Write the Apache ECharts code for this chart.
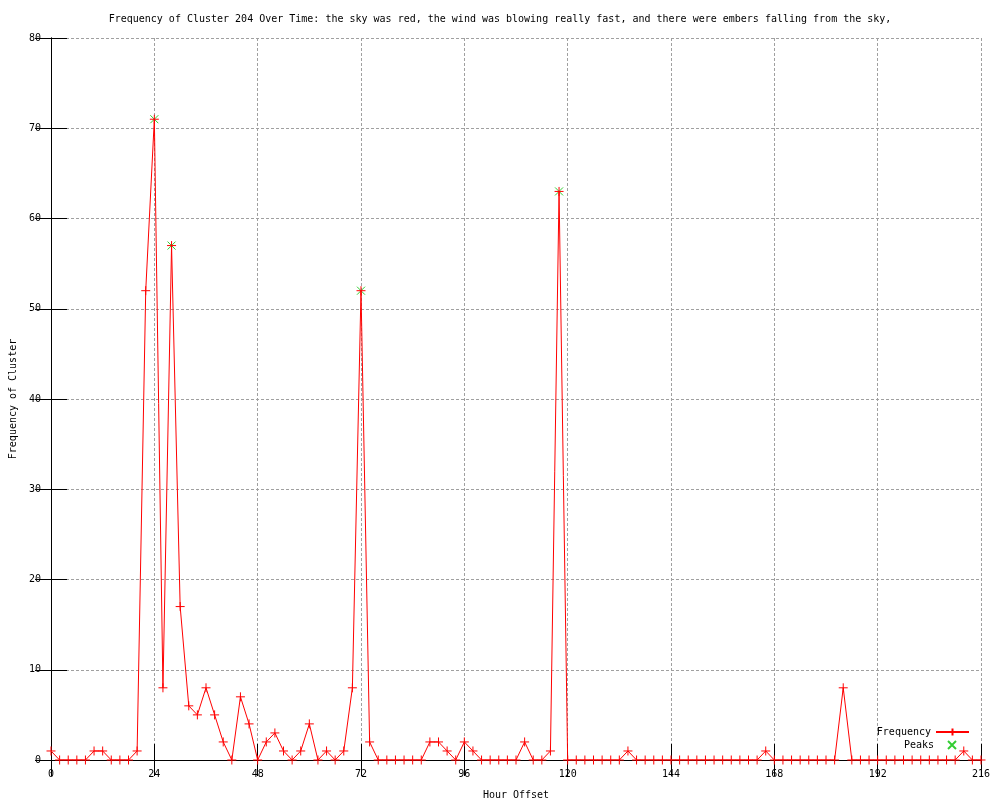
<!DOCTYPE html>
<html>
<head>
<meta charset="utf-8">
<script src="https://cdn.jsdelivr.net/npm/echarts@6/dist/echarts.min.js"></script>
<style>html,body{margin:0;padding:0;background:#fff}#c{width:1000px;height:800px}</style>
</head>
<body>
<div id="c"></div>
<script>
// Hour offsets (every 2 hours, 0..216)
var hours = [0,2,4,6,8,10,12,14,16,18,20,22,24,26,28,30,32,34,36,38,40,42,44,46,48,50,52,54,56,58,60,62,64,66,68,70,72,74,76,78,80,82,84,86,88,90,92,94,96,98,100,102,104,106,108,110,112,114,116,118,120,122,124,126,128,130,132,134,136,138,140,142,144,146,148,150,152,154,156,158,160,162,164,166,168,170,172,174,176,178,180,182,184,186,188,190,192,194,196,198,200,202,204,206,208,210,212,214,216];
var frequency = [1,0,0,0,0,1,1,0,0,0,1,52,71,8,57,17,6,5,8,5,2,0,7,4,0,2,3,1,0,1,4,0,1,0,1,8,52,2,0,0,0,0,0,0,2,2,1,0,2,1,0,0,0,0,0,2,0,0,1,63,0,0,0,0,0,0,0,1,0,0,0,0,0,0,0,0,0,0,0,0,0,0,0,1,0,0,0,0,0,0,0,0,8,0,0,0,0,0,0,0,0,0,0,0,0,0,1,0,0];
var peakHours = [24, 28, 72, 118];
var peakValues = [71, 57, 52, 63];
var xTicks = [0,24,48,72,96,120,144,168,192,216];
var yTicks = [0,10,20,30,40,50,60,70,80];

var FONT = 'DejaVu Sans Mono';
var freqData = hours.map(function(h,i){return [h, frequency[i]];});
var peakData = peakHours.map(function(h,i){return [h, peakValues[i]];});
var PLUS = 'path://M4,0L4,8M0,4L8,4';
var CROSS = 'path://M0,0L8,8M0,8L8,0';

var chart = echarts.init(document.getElementById('c'), null, {renderer:'canvas'});
var axisCommon = {
  axisLine:{show:true, lineStyle:{color:'#000', width:1}},
  axisTick:{show:true, inside:true, length:16, lineStyle:{color:'#000', width:1}},
};
chart.setOption({
  animation:false,
  backgroundColor:'#fff',
  title:{
    text:'Frequency of Cluster 204 Over Time: the sky was red, the wind was blowing really fast, and there were embers falling from the sky,',
    left:'center', top:9,
    textStyle:{fontFamily:FONT, fontSize:10, fontWeight:'normal', color:'#000'}
  },
  grid:{left:51, right:19, top:38, bottom:40, containLabel:false, outerBoundsMode:'none'},
  legend:[
    {data:['Frequency'], right:30, top:727, orient:'vertical', align:'right', padding:0,
     itemWidth:33, itemHeight:9,
     textStyle:{fontFamily:FONT, fontSize:10, color:'#000'}},
    {data:['Peaks'], right:43, top:740, orient:'vertical', align:'right', padding:0,
     itemWidth:8, itemHeight:8,
     textStyle:{fontFamily:FONT, fontSize:10, color:'#000', padding:[0,9,0,0]}}
  ],
  xAxis:[
    Object.assign({
      type:'value', min:xTicks[0], max:xTicks[xTicks.length-1], interval:24,
      name:'Hour Offset', nameLocation:'middle', nameGap:30,
      nameTextStyle:{fontFamily:FONT, fontSize:10, color:'#000'},
      axisLabel:{fontFamily:FONT, fontSize:10, color:'#000', margin:9},
      splitLine:{show:true, lineStyle:{color:'#a0a0a0', type:[3,2], width:1}}
    }, axisCommon),
    Object.assign({
      type:'value', min:xTicks[0], max:xTicks[xTicks.length-1], interval:24, position:'top',
      axisLabel:{show:false}, splitLine:{show:false}
    }, axisCommon)
  ],
  yAxis:[
    Object.assign({
      type:'value', min:yTicks[0], max:yTicks[yTicks.length-1], interval:10,
      name:'Frequency of Cluster', nameLocation:'middle', nameGap:32, nameRotate:90,
      nameTextStyle:{fontFamily:FONT, fontSize:10, color:'#000'},
      axisLabel:{fontFamily:FONT, fontSize:10, color:'#000', margin:10},
      splitLine:{show:true, lineStyle:{color:'#a0a0a0', type:[3,2], width:1}}
    }, axisCommon),
    Object.assign({
      type:'value', min:yTicks[0], max:yTicks[yTicks.length-1], interval:10, position:'right',
      axisLabel:{show:false}, splitLine:{show:false}
    }, axisCommon)
  ],
  series:[
    {
      name:'Peaks', type:'scatter', data:peakData, xAxisIndex:0, yAxisIndex:0,
      symbol:CROSS, symbolSize:8,
      itemStyle:{color:'#00c000', borderColor:'#00c000', borderWidth:1},
      emphasis:{disabled:true}, z:2
    },
    {
      name:'Frequency', type:'line', data:freqData, xAxisIndex:0, yAxisIndex:0,
      symbol:PLUS, symbolSize:9, showAllSymbol:true,
      lineStyle:{color:'#ff0000', width:1},
      itemStyle:{color:'#ff0000', borderColor:'#ff0000', borderWidth:1},
      emphasis:{disabled:true}, z:3
    }
  ]
});
</script>
</body>
</html>
